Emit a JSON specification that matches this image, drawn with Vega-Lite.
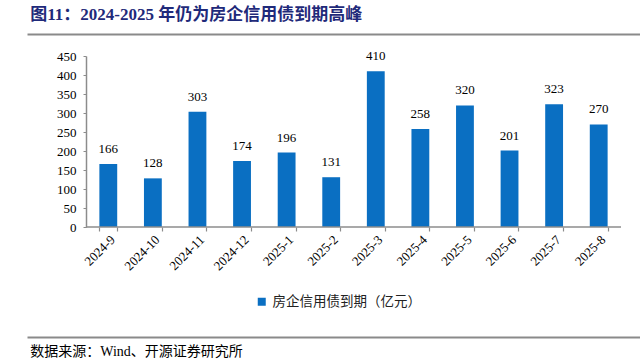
{
  "$schema": "https://vega.github.io/schema/vega-lite/v6.json",
  "background": "white",
  "padding": {"left": 24, "top": 5, "right": 0, "bottom": 0},
  "config": {"view": {"stroke": null}, "font": "Liberation Serif, Noto Sans CJK SC", "legend": {"layout": {"bottom": {"anchor": "middle"}}}},
  "spacing": 13,
  "resolve": {"scale": {"color": "independent", "x": "independent", "y": "independent"}, "legend": {"color": "independent"}},
  "vconcat": [
    {
      "width": 616,
      "height": 1,
      "title": {"text": "图11：2024-2025 年仍为房企信用债到期高峰", "anchor": "start", "dx": 6, "offset": 7, "fontSize": 17, "fontWeight": "bold", "color": "#1f2a7a", "font": "Liberation Serif, Noto Sans CJK SC"},
      "data": {"values": [{"p": 0}]},
      "mark": {"type": "point", "opacity": 0},
      "encoding": {
        "x": {"field": "p", "type": "quantitative", "scale": {"domain": [0, 1]},
          "axis": {"orient": "bottom", "labels": false, "ticks": false, "grid": false, "title": null, "domainColor": "#8a8a8a", "domainWidth": 2}}
      }
    },
    {
      "width": 594,
      "height": 171,
      "data": {"values": [
        {"month": "2024-9", "value": 166},
        {"month": "2024-10", "value": 128},
        {"month": "2024-11", "value": 303},
        {"month": "2024-12", "value": 174},
        {"month": "2025-1", "value": 196},
        {"month": "2025-2", "value": 131},
        {"month": "2025-3", "value": 410},
        {"month": "2025-4", "value": 258},
        {"month": "2025-5", "value": 320},
        {"month": "2025-6", "value": 201},
        {"month": "2025-7", "value": 323},
        {"month": "2025-8", "value": 270}
      ]},
      "encoding": {
        "x": {"field": "month", "type": "nominal", "title": null,
          "scale": {"domain": ["2024-9", "2024-10", "2024-11", "2024-12", "2025-1", "2025-2", "2025-3", "2025-4", "2025-5", "2025-6", "2025-7", "2025-8"], "paddingInner": 0.6, "paddingOuter": 0.9617, "align": 0.844},
          "axis": {"labelAngle": -45, "labelFontSize": 13, "labelColor": "#000000", "labelFont": "Liberation Serif", "domain": false, "tickColor": "#8c8c8c", "tickSize": 4, "tickWidth": 1.2, "tickBand": "extent", "labelPadding": 2}},
        "y": {"field": "value", "type": "quantitative", "title": null,
          "scale": {"domain": [0, 450]},
          "axis": {"values": [0, 50, 100, 150, 200, 250, 300, 350, 400, 450], "offset": -59, "grid": false, "labelFontSize": 13, "labelColor": "#000000", "labelFont": "Liberation Serif", "domainColor": "#8c8c8c", "domainWidth": 1.5, "tickColor": "#8c8c8c", "tickSize": 3, "labelPadding": 7}}
      },
      "layer": [
        {
          "mark": {"type": "bar"},
          "encoding": {
            "color": {"datum": "房企信用债到期（亿元）", "type": "nominal",
              "scale": {"range": ["#0a6fc2"]},
              "legend": {"orient": "bottom", "title": " ", "titleOrient": "left", "titlePadding": 28, "symbolType": "square", "symbolSize": 64, "labelFontSize": 13.5, "labelFont": "Noto Sans CJK SC", "labelColor": "#222222", "offset": 10, "padding": 12}}
          }
        },
        {
          "mark": {"type": "text", "dy": -15, "fontSize": 13, "color": "#000000", "font": "Liberation Serif"},
          "encoding": {"text": {"field": "value", "type": "quantitative"}}
        },
        {
          "data": {"values": [{"first": "2024-9", "last": "2025-8", "base": 0}]},
          "mark": {"type": "rule", "color": "#8c8c8c", "strokeWidth": 1.5},
          "encoding": {
            "x": {"field": "first", "type": "nominal", "bandPosition": -0.75},
            "x2": {"field": "last", "bandPosition": 1.75},
            "y": {"field": "base", "type": "quantitative"}
          }
        }
      ]
    },
    {
      "width": 616,
      "height": 1,
      "title": {"text": "数据来源：Wind、开源证券研究所", "orient": "bottom", "anchor": "start", "dx": 6, "offset": 5, "fontSize": 14, "fontWeight": "normal", "color": "#000000", "font": "Liberation Serif, Noto Sans CJK SC"},
      "data": {"values": [{"p": 0}]},
      "mark": {"type": "point", "opacity": 0},
      "encoding": {
        "x": {"field": "p", "type": "quantitative", "scale": {"domain": [0, 1]},
          "axis": {"orient": "top", "labels": false, "ticks": false, "grid": false, "title": null, "domainColor": "#8a8a8a", "domainWidth": 2}}
      }
    }
  ]
}
